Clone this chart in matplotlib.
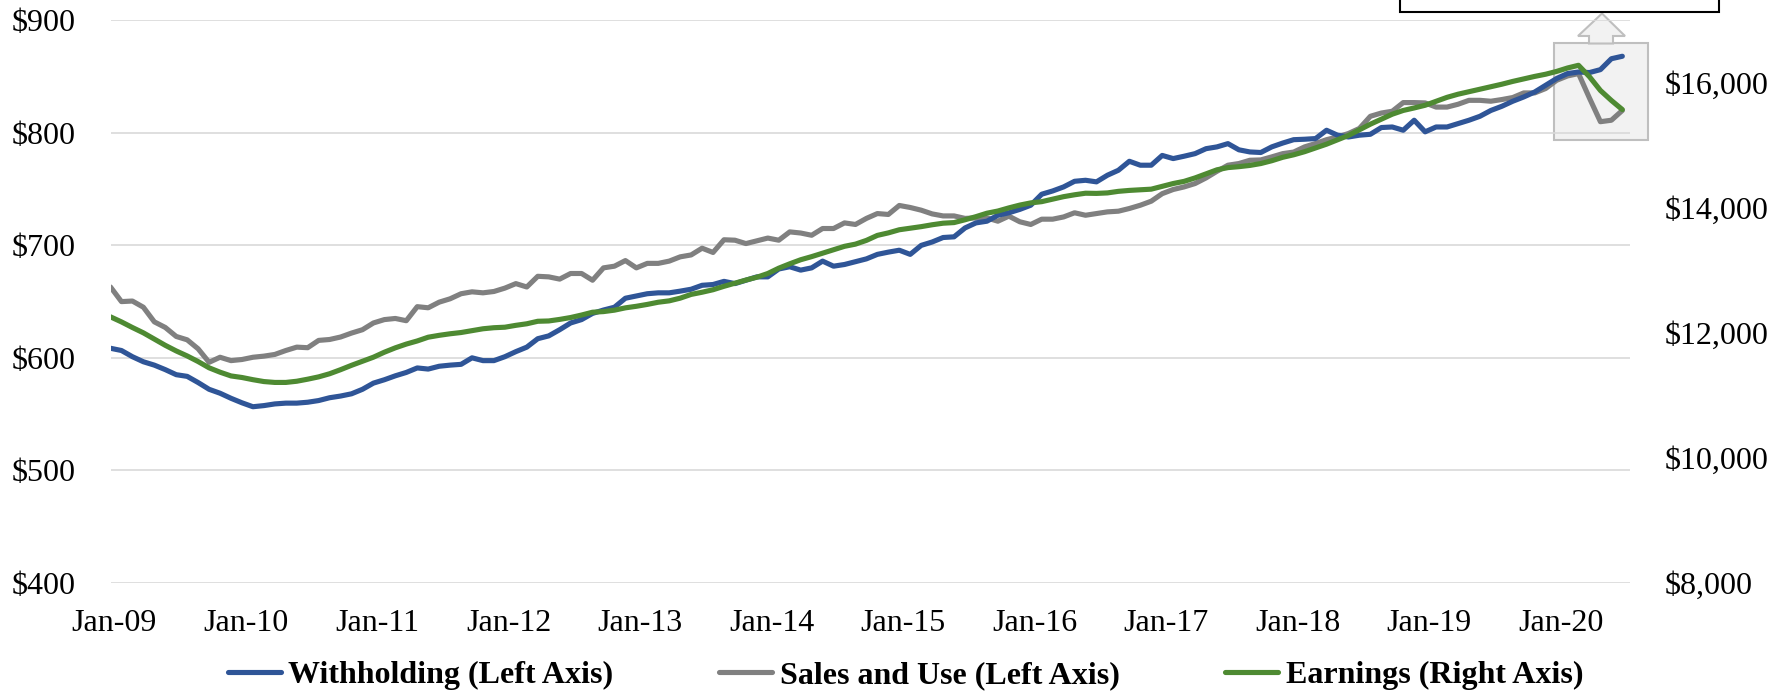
import matplotlib
matplotlib.use("Agg")
import matplotlib.pyplot as plt
import matplotlib.transforms as mtransforms
from matplotlib.patches import Rectangle, Polygon
from matplotlib.ticker import FuncFormatter

plt.rcParams['font.family'] = ['Liberation Serif', 'DejaVu Serif']

# ---------------- data (monthly, Jan-09 .. Jul-20) ----------------
tick_labels = ["Jan-09", "Jan-10", "Jan-11", "Jan-12", "Jan-13", "Jan-14",
               "Jan-15", "Jan-16", "Jan-17", "Jan-18", "Jan-19", "Jan-20"]

withholding = [
    608.5, 606.5, 601, 596.5, 593.5, 589.5, 585, 583.5, 578, 572, 568.5, 564,
    560, 556.5, 557.5, 559, 559.7, 559.7, 560.5, 562, 564.5, 566, 568, 572,
    577.5, 580.5, 584, 587, 591, 590, 592.5, 593.5, 594.2, 600, 597.5, 597.5,
    601, 605.5, 609.5, 617, 619.5, 625, 631, 634, 639.5, 642.5, 645, 653,
    655, 657, 657.8, 657.8, 659.3, 661, 664.5, 665.2, 668, 666, 669, 672,
    672, 679, 681, 678, 680, 686, 681.5, 683, 685.5, 688, 692, 694,
    695.7, 692, 700, 703, 707, 707.6, 715.5, 720, 721.5, 726.8, 729, 732,
    735.7, 745.5, 748.4, 752, 757, 757.9, 756.5, 762.4, 766.8, 774.8, 771.3, 771.3,
    780, 777.2, 779.3, 781.6, 786, 787.6, 790.5, 785, 783.1, 782.6, 787.6, 791,
    794, 794.4, 795, 802.4, 798, 796.4, 798, 798.8, 804.8, 805.3, 802.4, 811.3,
    801, 805.3, 805.3, 808.3, 811.3, 814.8, 820, 823.7, 828.2, 832, 836.4, 842.4,
    848.4, 852.8, 854.2, 853.7, 856.3, 866, 868.2]

sales_use = [
    663, 650, 650.5, 645, 632, 627, 619, 616, 608, 596, 600.5, 597.5,
    598.5, 600.5, 601.5, 603, 606.5, 609.5, 609, 615.5, 616.3, 618.5, 622, 625,
    631, 634, 635, 633, 645.5, 644.5, 649.5, 652.5, 657, 658.7, 657.8, 659,
    662, 666, 663, 672.5, 672, 670, 675, 675, 669, 680, 681.5, 686.5,
    680, 684, 684, 686, 689.8, 691.5, 697.5, 693.7, 705, 704.6, 701.6, 704,
    706.5, 704.6, 712, 711, 709, 715, 715, 720, 718.6, 724, 728.3, 727.5,
    735.5, 733.7, 731.3, 728, 726.2, 726.2, 724, 724.4, 724.4, 721.5, 726, 721,
    718.6, 723.3, 723.3, 725.3, 729, 726.8, 728.3, 729.8, 730.4, 732.8, 735.7, 739.3,
    746, 749.7, 752, 755, 760, 765.9, 771.3, 772.8, 775.7, 776, 778.7, 781.6,
    783, 787.6, 790.6, 794, 796.4, 799.5, 804, 814.8, 817.7, 819.3, 827, 827,
    826.7, 823, 823, 825.5, 829, 829, 828.2, 829.7, 831.5, 835.6, 835.6, 839.5,
    846.8, 850.7, 852.8, 831, 810, 811.3, 820]

earnings = [
    12256, 12175, 12085, 12000, 11900, 11800, 11710, 11630, 11540, 11440, 11370, 11310,
    11285, 11250, 11220, 11206, 11206, 11225, 11258, 11295, 11345, 11410, 11480, 11545,
    11610, 11690, 11760, 11820, 11870, 11930, 11960, 11985, 12005, 12035, 12065, 12082,
    12090, 12120, 12145, 12185, 12190, 12215, 12245, 12285, 12330, 12340, 12363, 12400,
    12425, 12455, 12490, 12512, 12555, 12615, 12650, 12690, 12745, 12795, 12845, 12890,
    12950, 13035, 13105, 13170, 13220, 13275, 13330, 13385, 13420, 13480, 13560, 13600,
    13650, 13675, 13700, 13730, 13755, 13765, 13810, 13860, 13915, 13950, 14000, 14045,
    14080, 14100, 14140, 14180, 14210, 14235, 14232, 14240, 14265, 14280, 14290, 14300,
    14345, 14390, 14425, 14480, 14545, 14610, 14645, 14660, 14680, 14710, 14755, 14810,
    14850, 14900, 14960, 15020, 15090, 15160, 15250, 15340, 15420, 15500, 15560, 15600,
    15643, 15707, 15770, 15820, 15860, 15900, 15940, 15980, 16025, 16065, 16105, 16140,
    16185, 16240, 16283, 16100, 15880, 15720, 15574]

series_names = ["Withholding (Left Axis)", "Sales and Use (Left Axis)", "Earnings (Right Axis)"]
colors = ["#2F5597", "#808080", "#4E8A32"]

# ---------------- figure ----------------
W, H = 1786, 691
fig = plt.figure(figsize=(W / 100, H / 100), dpi=100)
L, R, T, B = 110.5, 1630, 20.5, 582.7
ax = fig.add_axes([L / W, 1 - B / H, (R - L) / W, (B - T) / H])
ax.patch.set_facecolor('none')
ax2 = ax.twinx()

x = list(range(len(withholding)))
lw = 3.7
l1, = ax.plot(x, withholding, color=colors[0], lw=lw, solid_capstyle='round', solid_joinstyle='round', zorder=3)
l2, = ax.plot(x, sales_use, color=colors[1], lw=lw, solid_capstyle='round', solid_joinstyle='round', zorder=2)
l3, = ax2.plot(x, earnings, color=colors[2], lw=lw, solid_capstyle='round', solid_joinstyle='round', zorder=3)

ax.set_xlim(0, 138.7)
ax.set_ylim(400, 900)
ax2.set_ylim(8000, 17000)
ax.set_yticks(range(400, 901, 100))
ax2.set_yticks(range(8000, 16001, 2000))
ax.set_xticks(range(0, 12 * len(tick_labels), 12))
ax.set_xticklabels(tick_labels)

ax.yaxis.set_major_formatter(FuncFormatter(lambda v, p: f"${v:,.0f}"))
ax2.yaxis.set_major_formatter(FuncFormatter(lambda v, p: f"${v:,.0f}"))

ax.grid(axis='y', color='#D9D9D9', lw=1.2, zorder=0)
ax.set_axisbelow(True)
for a in (ax, ax2):
    for s in a.spines.values():
        s.set_visible(False)
    a.tick_params(length=0, labelsize=23, colors='black')
ax.tick_params(axis='y', pad=25)
ax2.tick_params(axis='y', pad=25)
ax.tick_params(axis='x', pad=19)

offset = mtransforms.ScaledTranslation(4 / 100, 0, fig.dpi_scale_trans)
for lab in ax.get_xticklabels():
    lab.set_transform(lab.get_transform() + offset)

# ---------------- annotation shapes ----------------
def fx(px):
    return px / W

def fy(py):
    return 1 - py / H

box = Rectangle((fx(1554), fy(140)), fx(1648) - fx(1554), fy(43) - fy(140),
                transform=fig.transFigure, facecolor='#F2F2F2', edgecolor='#BFBFBF',
                lw=1.5, zorder=-1)
fig.add_artist(box)
arrow_pts = [(1589, 43.5), (1589, 36), (1578, 36), (1602, 13.5), (1625, 36), (1613, 36), (1613, 43.5)]
arrow = Polygon([(fx(a), fy(b)) for a, b in arrow_pts], closed=True, transform=fig.transFigure,
                facecolor='#F2F2F2', edgecolor='#BFBFBF', lw=1.5, zorder=-1)
fig.add_artist(arrow)
tbox = Rectangle((fx(1400), fy(12.3)), fx(1719) - fx(1400), fy(-20) - fy(12.3),
                 transform=fig.transFigure, facecolor='white', edgecolor='black', lw=1.5, zorder=5)
fig.add_artist(tbox)

# ---------------- legend ----------------
fig.legend([l1, l2, l3], series_names, loc='center', bbox_to_anchor=(0.507, 0.023),
           ncol=3, frameon=False, prop={'weight': 'bold', 'size': 23},
           handlelength=1.65, handletextpad=0.25, columnspacing=3.3)

fig.savefig("out.png", dpi=100)
